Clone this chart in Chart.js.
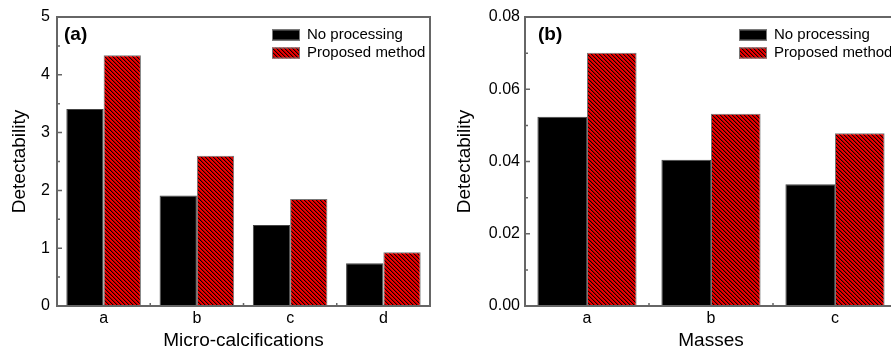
<!DOCTYPE html>
<html>
<head>
<meta charset="utf-8">
<script src="https://cdn.jsdelivr.net/npm/chart.js@4.4.1/dist/chart.umd.min.js"></script>
<style>
  html, body { margin: 0; padding: 0; background: #fff; overflow: hidden; width: 891px; height: 354px; }
  #chartA { position: absolute; left: 0; top: 0; }
  #chartB { position: absolute; left: 445px; top: 0; }
</style>
</head>
<body>
<canvas id="chartA" width="445" height="354"></canvas>
<canvas id="chartB" width="470" height="354"></canvas>
<script>
// ---- dados ----
const seriesNames = ['No processing', 'Proposed method'];

const microCats = ['a', 'b', 'c', 'd'];
const microNoProc = [3.41, 1.91, 1.40, 0.74];
const microProposed = [4.34, 2.60, 1.85, 0.93];
const microTicks = [0, 1, 2, 3, 4, 5];

const massCats = ['a', 'b', 'c'];
const massNoProc = [0.0524, 0.0405, 0.0337];
const massProposed = [0.0701, 0.0532, 0.0478];
const massTicks = [0, 0.02, 0.04, 0.06, 0.08];

const FONT = 'Arial, "Liberation Sans", sans-serif';

// padrão hachurado vermelho/preto
function makeHatch() {
  const s = 4;
  const c = document.createElement('canvas');
  c.width = s; c.height = s;
  const g = c.getContext('2d');
  const img = g.createImageData(s, s);
  for (let y = 0; y < s; y++) {
    for (let x = 0; x < s; x++) {
      const k = ((x - y) % s + s) % s;
      const i = (y * s + x) * 4;
      let col = [238, 0, 0];
      if (k === 0) col = [20, 0, 0];
      else if (k === 1) col = [170, 0, 0];
      img.data[i] = col[0]; img.data[i + 1] = col[1]; img.data[i + 2] = col[2]; img.data[i + 3] = 255;
    }
  }
  g.putImageData(img, 0, 0);
  return g.createPattern(c, 'repeat');
}

// moldura, ticks para dentro, legenda e rótulo do painel
const framePlugin = {
  id: 'frame',
  afterDraw(chart, args, opts) {
    const { ctx, chartArea: a } = chart;
    const xs = chart.scales.x, ys = chart.scales.y;
    ctx.save();
    ctx.strokeStyle = '#666';
    ctx.lineWidth = 1.5;

    // ticks do eixo y (maiores e menores)
    const t = ys.ticks.map(tk => tk.value);
    ctx.beginPath();
    t.forEach((v, i) => {
      const py = ys.getPixelForValue(v);
      ctx.moveTo(a.left, py); ctx.lineTo(a.left + 5, py);
      if (i < t.length - 1) {
        const pm = ys.getPixelForValue((v + t[i + 1]) / 2);
        ctx.moveTo(a.left, pm); ctx.lineTo(a.left + 3, pm);
      }
    });
    // ticks do eixo x nas divisões entre categorias
    for (let i = 0; i < chart.data.labels.length - 1; i++) {
      const px = (xs.getPixelForValue(i) + xs.getPixelForValue(i + 1)) / 2;
      ctx.moveTo(px, a.bottom); ctx.lineTo(px, a.bottom - 3);
    }
    ctx.stroke();

    ctx.lineWidth = 2;
    ctx.strokeRect(a.left, a.top, a.right - a.left, a.bottom - a.top);

    // rótulo (a)/(b)
    ctx.fillStyle = '#000';
    ctx.font = 'bold 19px ' + FONT;
    ctx.textBaseline = 'middle';
    ctx.textAlign = 'left';
    ctx.fillText(opts.tag, a.left + opts.tagDx, 35);

    // legenda
    const bx = a.right - 158;
    ctx.font = '15px ' + FONT;
    chart.data.datasets.forEach((ds, i) => {
      const cy = 35 + i * 18;
      ctx.fillStyle = ds.backgroundColor;
      ctx.fillRect(bx, cy - 5.5, 28, 11);
      ctx.lineWidth = 1;
      ctx.strokeStyle = '#777';
      ctx.strokeRect(bx + 0.5, cy - 5, 27, 10);
      ctx.fillStyle = '#000';
      ctx.fillText(ds.label, bx + 35, cy);
    });
    ctx.restore();
  }
};

function buildChart(id, cats, s1, s2, tickVals, yWidth, tickPad, tag, tagDx, xTitle, rightPad, fmt) {
  const hatch = makeHatch();
  return new Chart(document.getElementById(id), {
    type: 'bar',
    data: {
      labels: cats,
      datasets: [
        { label: seriesNames[0], data: s1, backgroundColor: '#000', borderColor: '#444', borderWidth: 1 },
        { label: seriesNames[1], data: s2, backgroundColor: hatch, borderColor: '#777', borderWidth: 1 }
      ]
    },
    options: {
      responsive: false,
      animation: false,
      layout: { padding: { top: 17, right: rightPad, left: 0, bottom: 0 } },
      datasets: { bar: { barPercentage: 1, categoryPercentage: 0.8 } },
      plugins: {
        legend: { display: false },
        tooltip: { enabled: false },
        frame: { tag: tag, tagDx: tagDx }
      },
      scales: {
        x: {
          grid: { display: false, drawTicks: false },
          border: { display: false },
          ticks: { color: '#000', font: { family: FONT, size: 16 }, padding: 3 },
          title: { display: true, text: xTitle, color: '#000', font: { family: FONT, size: 19 }, padding: { top: 0, bottom: 2 } },
          afterFit(sc) { sc.height = 48; }
        },
        y: {
          min: tickVals[0],
          max: tickVals[tickVals.length - 1],
          afterBuildTicks(sc) { sc.ticks = tickVals.map(v => ({ value: v })); },
          grid: { display: false, drawTicks: false },
          border: { display: false },
          ticks: { color: '#000', font: { family: FONT, size: 16 }, padding: tickPad, callback: fmt },
          title: { display: true, text: 'Detectability', color: '#000', font: { family: FONT, size: 19 }, padding: { top: 8, bottom: 0 } },
          afterFit(sc) { sc.width = yWidth; }
        }
      }
    },
    plugins: [framePlugin]
  });
}

buildChart('chartA', microCats, microNoProc, microProposed, microTicks, 57, 7, '(a)', 7, 'Micro-calcifications', 15, v => String(v));
buildChart('chartB', massCats, massNoProc, massProposed, massTicks, 80, 5, '(b)', 13, 'Masses', 18, v => Number(v).toFixed(2));
</script>
</body>
</html>
